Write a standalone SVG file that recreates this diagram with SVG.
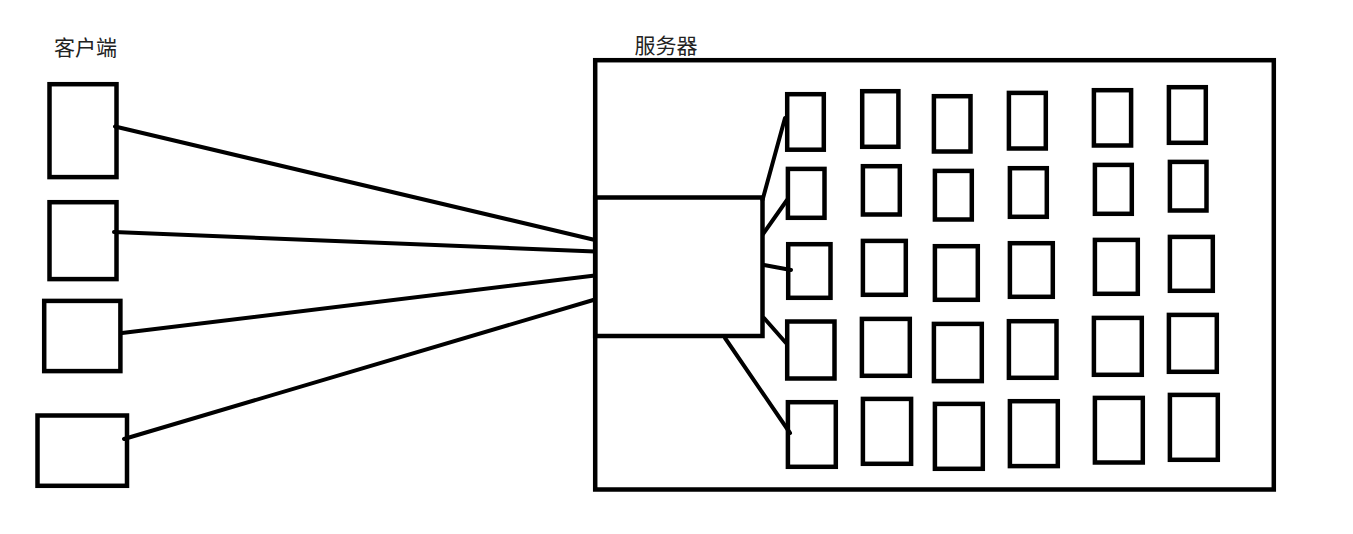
<svg xmlns="http://www.w3.org/2000/svg" width="1353" height="534" viewBox="0 0 1353 534">
<style>
.b{fill:none;stroke:#000;stroke-width:4.5}
.c line{stroke:#000;stroke-width:4;stroke-linecap:round}
.t{font-family:"Noto Sans CJK SC","Noto Sans",sans-serif;font-size:21px;fill:#222}
</style>
<rect width="1353" height="534" fill="#fff"/>
<text class="t" x="54" y="54.5">客户端</text>
<text class="t" x="634.5" y="52.5">服务器</text>
<g id="server"><rect class="b" x="595.2" y="60.2" width="678.6" height="429.3"/></g>
<g id="client1"><rect class="b" x="49.5" y="84.2" width="67" height="92.9"/></g>
<g id="client2"><rect class="b" x="49.5" y="202.2" width="67" height="76.9"/></g>
<g id="client3"><rect class="b" x="44.2" y="300.9" width="76.2" height="70.2"/></g>
<g id="client4"><rect class="b" x="37.5" y="415.5" width="89.5" height="70.3"/></g>
<g id="hub"><rect class="b" x="595.2" y="197.5" width="167.3" height="138.5"/></g>
<g id="grid">
<rect class="b" x="787.2" y="94.2" width="36.6" height="55.5"/>
<rect class="b" x="862.2" y="91.2" width="36.2" height="55.6"/>
<rect class="b" x="933.9" y="96.2" width="36.6" height="55.3"/>
<rect class="b" x="1008.9" y="92.9" width="36.9" height="55.6"/>
<rect class="b" x="1093.9" y="90.2" width="37.2" height="55.3"/>
<rect class="b" x="1168.9" y="87.2" width="36.9" height="55.6"/>
<rect class="b" x="787.9" y="168.9" width="36.6" height="48.9"/>
<rect class="b" x="862.9" y="166.2" width="36.9" height="48.3"/>
<rect class="b" x="934.9" y="170.9" width="36.9" height="48.6"/>
<rect class="b" x="1009.9" y="168.2" width="36.9" height="48.6"/>
<rect class="b" x="1094.9" y="164.9" width="36.9" height="48.9"/>
<rect class="b" x="1169.9" y="161.9" width="36.6" height="48.6"/>
<rect class="b" x="788.2" y="244.2" width="42.3" height="53.6"/>
<rect class="b" x="862.9" y="240.9" width="42.9" height="53.9"/>
<rect class="b" x="934.9" y="246.2" width="42.9" height="53.6"/>
<rect class="b" x="1009.9" y="243.2" width="42.9" height="53.6"/>
<rect class="b" x="1094.9" y="239.9" width="42.9" height="53.9"/>
<rect class="b" x="1169.9" y="236.9" width="42.9" height="53.9"/>
<rect class="b" x="787.2" y="321.5" width="47.3" height="57"/>
<rect class="b" x="861.9" y="318.9" width="47.9" height="56.9"/>
<rect class="b" x="933.9" y="323.9" width="47.9" height="57.2"/>
<rect class="b" x="1008.9" y="321.2" width="47.6" height="56.6"/>
<rect class="b" x="1093.9" y="317.9" width="47.9" height="56.9"/>
<rect class="b" x="1168.9" y="314.9" width="47.9" height="56.9"/>
<rect class="b" x="787.9" y="402.2" width="47.9" height="64.6"/>
<rect class="b" x="862.9" y="398.9" width="48.2" height="64.9"/>
<rect class="b" x="934.9" y="403.9" width="47.9" height="64.9"/>
<rect class="b" x="1009.9" y="401.2" width="47.9" height="64.9"/>
<rect class="b" x="1094.9" y="397.9" width="47.9" height="64.6"/>
<rect class="b" x="1169.9" y="394.9" width="47.9" height="64.9"/>
</g>
<g id="connectors" class="c">
<line x1="115" y1="126.5" x2="595" y2="240"/>
<line x1="114" y1="232" x2="595" y2="251.5"/>
<line x1="122" y1="333" x2="595" y2="275.5"/>
<line x1="124" y1="439" x2="595" y2="299.5"/>
<line x1="762.5" y1="200" x2="785" y2="118"/>
<line x1="763" y1="234" x2="787" y2="200"/>
<line x1="764" y1="265" x2="791" y2="270"/>
<line x1="764" y1="318" x2="786" y2="343"/>
<line x1="725" y1="338" x2="790" y2="433"/>
</g>
</svg>
